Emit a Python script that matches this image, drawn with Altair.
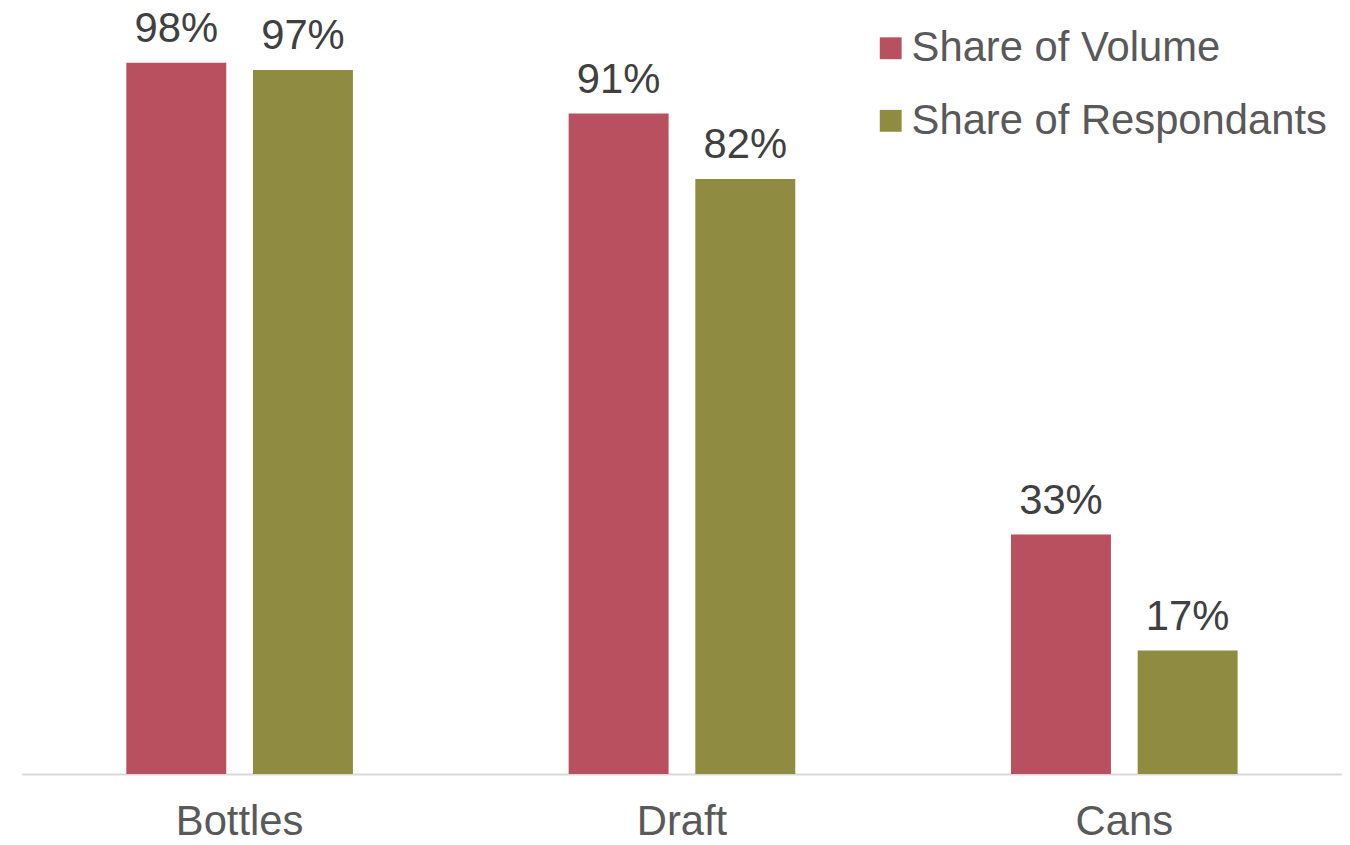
import altair as alt
import pandas as pd

categories = ["Bottles", "Draft", "Cans"]
series = ["Share of Volume", "Share of Respondants"]
volume = [98, 91, 33]
respondents = [97, 82, 17]

rows = []
for c, v, r in zip(categories, volume, respondents):
    rows.append({"cat": c, "series": series[0], "value": v, "label": f"{v}%"})
    rows.append({"cat": c, "series": series[1], "value": r, "label": f"{r}%"})
df = pd.DataFrame(rows)

FONT = "Liberation Sans"

x = alt.X("cat:N", sort=categories, title=None,
          scale=alt.Scale(paddingInner=0.4877, paddingOuter=0.236),
          axis=alt.Axis(labelAngle=0, labelFontSize=42, labelFont=FONT, labelColor="#595959",
                        ticks=False, domainColor="#D9D9D9", domainWidth=2, labelPadding=28))
xo = alt.XOffset("series:N", sort=series,
                 scale=alt.Scale(paddingInner=0.211, paddingOuter=0))
y = alt.Y("value:Q", scale=alt.Scale(domain=[0, 100]), axis=None)

bars = alt.Chart(df).mark_bar().encode(
    x=x, xOffset=xo, y=y,
    color=alt.Color("series:N", sort=series,
                    scale=alt.Scale(domain=series, range=["#B9505F", "#8F8B40"]),
                    legend=alt.Legend(title=None, orient="none", legendX=853, legendY=-21,
                                      symbolType="square", symbolSize=484, symbolStrokeWidth=0,
                                      labelFontSize=42, labelFont=FONT, labelColor="#595959",
                                      labelOffset=0, rowPadding=31, labelLimit=600)),
)

labels = alt.Chart(df).mark_text(fontSize=42, font=FONT, color="#404040",
                                 baseline="alphabetic", dy=-21).encode(
    x=x, xOffset=xo, y=y, text="label:N")

chart = alt.layer(bars, labels).properties(
    width=1328, height=730, background="white",
    autosize=alt.AutoSizeParams(type="none"),
    padding={"left": 14, "top": 38, "right": 0, "bottom": 69},
).configure_view(strokeWidth=0, stroke=None)

chart.save("out.html", embed_options={"renderer": "svg", "actions": False})
